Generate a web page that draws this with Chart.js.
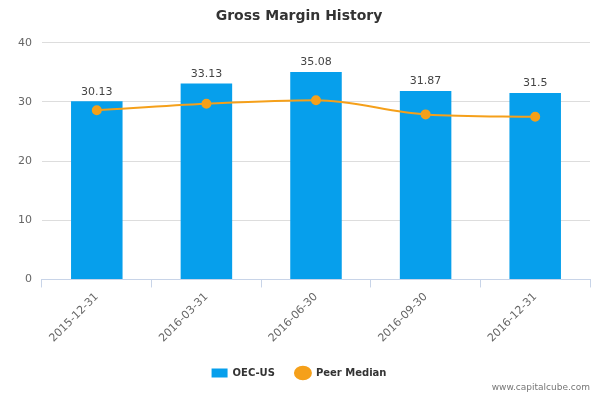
<!DOCTYPE html>
<html>
<head>
<meta charset="utf-8">
<script src="https://cdn.jsdelivr.net/npm/chart.js@4"></script>
<style>
body { margin: 0; background: #fff; }
#wrap { width: 600px; height: 400px; position: relative; }
#credit { position: absolute; right: 10px; bottom: 8px; font: 9px "DejaVu Sans", sans-serif; color: #777; }
</style>
</head>
<body>
<div id="wrap">
<canvas id="mycanvas" width="600" height="400"></canvas>
<div id="credit">www.capitalcube.com</div>
</div>
<script>
var dates = ['2015-12-31', '2016-03-31', '2016-06-30', '2016-09-30', '2016-12-31'];
var company = [30.13, 33.13, 35.08, 31.87, 31.5];
var peerMedian = [28.6, 29.7, 30.3, 27.9, 27.5];
var yTicks = [0, 10, 20, 30, 40];

var barLabels = {
	id: 'barLabels',
	afterDatasetsDraw: function(chart) {
		var ctx = chart.ctx;
		var meta = chart.getDatasetMeta(1);
		ctx.save();
		ctx.font = '11px "DejaVu Sans", sans-serif';
		ctx.fillStyle = '#444';
		ctx.textAlign = 'center';
		ctx.textBaseline = 'bottom';
		meta.data.forEach(function(bar, i) {
			ctx.fillText(String(company[i]), bar.x, bar.y - 4);
		});
		ctx.restore();
	}
};

var ctx = document.getElementById('mycanvas');
new Chart(ctx, {
	type: 'bar',
	data: {
		labels: dates,
		datasets: [
			{
				type: 'line',
				label: 'Peer Median',
				data: peerMedian,
				borderColor: '#F5A01A',
				backgroundColor: '#F5A01A',
				borderWidth: 2,
				pointRadius: 4,
				pointStyle: 'circle',
				tension: 0.4,
				cubicInterpolationMode: 'monotone',
				order: 0
			},
			{
				label: 'OEC-US',
				data: company,
				backgroundColor: '#069FEC',
				pointStyle: 'rect',
				barPercentage: 0.47,
				categoryPercentage: 1,
				order: 1
			}
		]
	},
	options: {
		responsive: false,
		animation: false,
		layout: { padding: { left: 8, right: 10, top: 0, bottom: 12 } },
		plugins: {
			title: {
				display: true,
				text: 'Gross Margin History',
				color: '#333',
				font: { family: 'DejaVu Sans', size: 14, weight: 'bold' },
				padding: { top: 8, bottom: 18 }
			},
			legend: {
				position: 'bottom',
				reverse: true,
				labels: {
					color: '#333',
					font: { family: 'DejaVu Sans', size: 10, weight: 'bold' },
					usePointStyle: true,
					pointStyleWidth: 16,
					boxHeight: 9,
					padding: 20
				}
			},
			tooltip: { enabled: false }
		},
		scales: {
			x: {
				grid: { display: true, drawOnChartArea: false, offset: true, color: '#c8d4e8', tickLength: 8 },
				border: { color: '#c8d4e8' },
				ticks: { color: '#666', font: { family: 'DejaVu Sans', size: 11 }, maxRotation: 45, minRotation: 45 }
			},
			y: {
				min: 0,
				max: 40,
				afterBuildTicks: function(axis) { axis.ticks = yTicks.map(function(v) { return { value: v }; }); },
				grid: { color: '#ddd', drawTicks: false },
				border: { display: false },
				ticks: { color: '#666', padding: 10, font: { family: 'DejaVu Sans', size: 11 } }
			}
		}
	},
	plugins: [barLabels]
});
</script>
</body>
</html>
